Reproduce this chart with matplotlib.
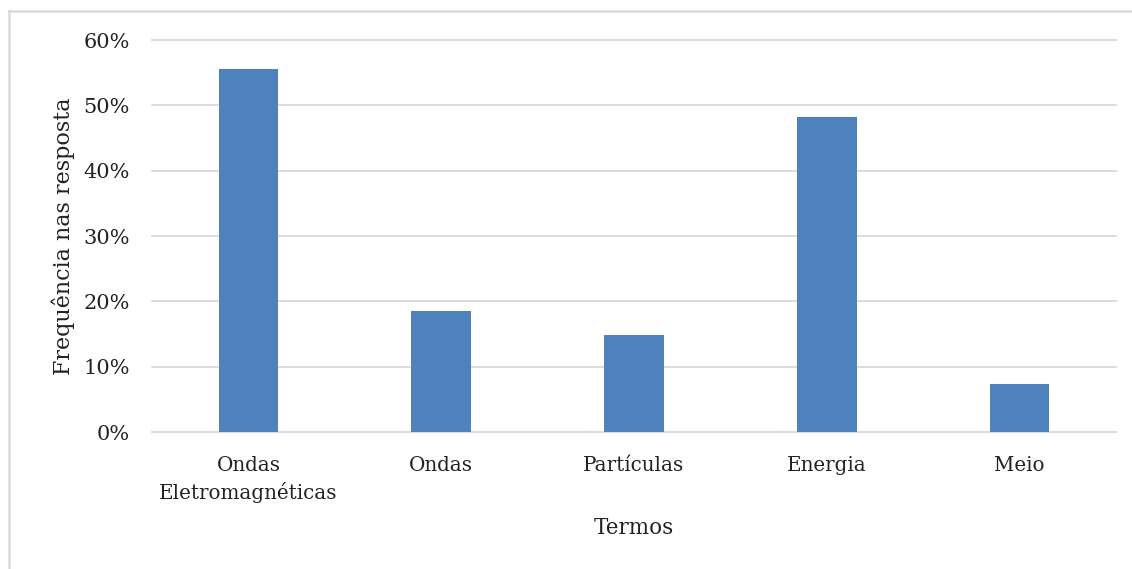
import matplotlib.pyplot as plt
from matplotlib.lines import Line2D
from matplotlib.ticker import PercentFormatter

termos = ["Ondas\nEletromagnéticas", "Ondas", "Partículas", "Energia", "Meio"]
frequencia = [15 / 27, 5 / 27, 4 / 27, 13 / 27, 2 / 27]
y_ticks = [0.0, 0.1, 0.2, 0.3, 0.4, 0.5, 0.6]

plt.rcParams["font.family"] = ["DejaVu Serif"]
W, H = 1132, 569
fig = plt.figure(figsize=(W / 100, H / 100), dpi=100)
ax = fig.add_axes([152 / W, 1 - 432 / H, (1116 - 152) / W, (432 - 40) / H])

x = range(len(termos))
ax.bar(x, frequencia, width=0.31, color="#4f81bd", zorder=3)
ax.set_xlim(-0.5, len(termos) - 0.5)
ax.set_ylim(0, 0.6)
ax.set_yticks(y_ticks)
ax.yaxis.set_major_formatter(PercentFormatter(1.0, decimals=0))
ax.set_xticks(list(x))
ax.set_xticklabels(termos, fontsize=14.3, color="#222222", linespacing=1.45)
ax.tick_params(axis="y", labelsize=15, colors="#222222", length=0, pad=16)
ax.tick_params(axis="x", length=0, pad=17)
ax.grid(axis="y", color="#d9d9d9", lw=1.3, zorder=0)
for gl in ax.get_ygridlines():
    gl.set_clip_on(False)
for s in ax.spines.values():
    s.set_visible(False)

ax.set_ylabel("Frequência nas resposta", fontsize=16, color="#222222", labelpad=6)
ax.set_xlabel("Termos", fontsize=15.5, color="#222222", labelpad=10)

# moldura cinza (topo e esquerda)
fig.add_artist(Line2D([9 / W, 1], [1 - 11 / H, 1 - 11 / H], transform=fig.transFigure,
                      color="#d9d9d9", lw=1.8))
fig.add_artist(Line2D([9 / W, 9 / W], [0, 1 - 11 / H], transform=fig.transFigure,
                      color="#d9d9d9", lw=1.8))

fig.savefig("out.png", dpi=100)
